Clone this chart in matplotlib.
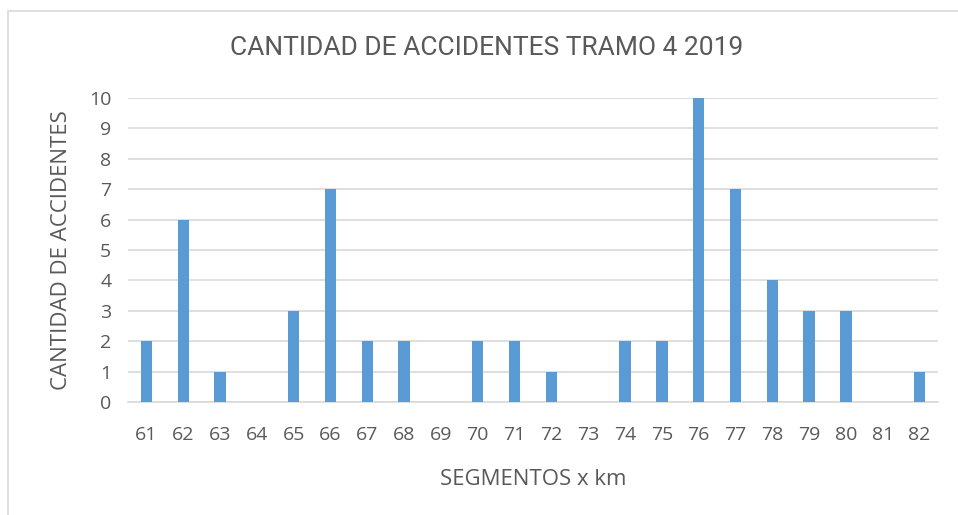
import matplotlib
matplotlib.use("Agg")
import matplotlib.pyplot as plt
import numpy as np
from matplotlib.patches import Rectangle

# accidents per km segment, section 4, 2019
segmentos = ["61", "62", "63", "64", "65", "66", "67", "68", "69", "70", "71",
             "72", "73", "74", "75", "76", "77", "78", "79", "80", "81", "82"]
accidentes = [2, 6, 1, 0, 3, 7, 2, 2, 0, 2, 2, 1, 0, 2, 2, 10, 7, 4, 3, 3, 0, 1]

txt = "#595959"
azul = "#5b9bd5"

fig = plt.figure(figsize=(9.58, 5.15), dpi=100)
# thin frame around the chart area
fig.patches.append(Rectangle((8 / 958, -0.05), 1.0, 1 - 11 / 515 + 0.05,
                             transform=fig.transFigure, fill=False,
                             edgecolor="#d9d9d9", linewidth=1.2))

ax = fig.add_axes([128 / 958, 1 - 402 / 515, 810 / 958, 304 / 515])
x = np.arange(len(segmentos))
ax.bar(x, accidentes, width=0.31, color=azul, zorder=3)

ax.set_xlim(-0.5, len(segmentos) - 0.5)
ax.set_ylim(0, 10)
ax.set_yticks(range(0, 11))
ax.set_xticks(x)
ax.set_xticklabels(segmentos)
ax.grid(axis="y", color="#d9d9d9", linewidth=1.2, zorder=0)
for s in ["top", "right", "left"]:
    ax.spines[s].set_visible(False)
ax.spines["bottom"].set_color("#d9d9d9")
ax.spines["bottom"].set_linewidth(1.2)
ax.tick_params(length=0, labelsize=14, labelcolor=txt)
for lab in ax.get_xticklabels() + ax.get_yticklabels():
    lab.set_family("Open Sans")
ax.tick_params(axis="x", pad=17)
ax.tick_params(axis="y", pad=12)

ax.set_xlabel("SEGMENTOS x km", fontsize=16, color=txt, family="Open Sans", labelpad=18)
ax.set_ylabel("CANTIDAD DE ACCIDENTES", fontsize=16, color=txt, family="Open Sans", labelpad=12)
fig.text(487 / 958, 1 - 48 / 515, "CANTIDAD DE ACCIDENTES TRAMO 4 2019",
         ha="center", va="center", fontsize=19, color=txt, family="Roboto")

fig.savefig("out.png", dpi=100)
